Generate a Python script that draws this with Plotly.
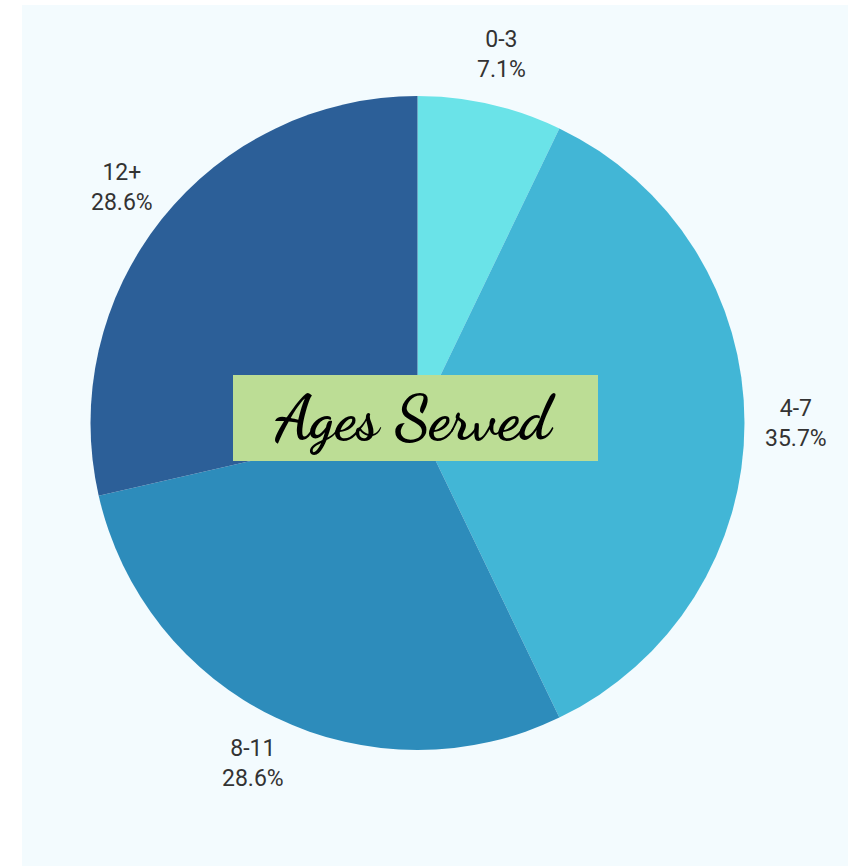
import math
import plotly.graph_objects as go

labels = ["0-3", "4-7", "8-11", "12+"]
values = [1, 5, 4, 4]
colors = ["#6ae3e8", "#42b6d6", "#2d8cbb", "#2c5f98"]
title_text = "Ages Served"

W, H = 848, 866
ml, mt = 22, 5
pw, ph = W - ml, H - mt

# pie geometry in page pixels
cx, cy, r = 417.5, 423, 327
x0 = (cx - r - ml) / pw
x1 = (cx + r - ml) / pw
y1 = 1 - (cy - r - mt) / ph
y0 = 1 - (cy + r - mt) / ph

fig = go.Figure(go.Pie(
    labels=labels,
    values=values,
    sort=False,
    direction="clockwise",
    rotation=0,
    marker=dict(colors=colors, line=dict(width=0)),
    textinfo="none",
    domain=dict(x=[x0, x1], y=[y0, y1]),
    showlegend=False,
    hoverinfo="label+percent",
))

# outside labels placed at each slice's mid-angle (derived from the values)
total = sum(values)
R_lab = 378
cum = 0
for lab, v in zip(labels, values):
    mid = (cum + v / 2) / total * 2 * math.pi
    cum += v
    px = cx + R_lab * math.sin(mid)
    py = cy - R_lab * math.cos(mid)
    fig.add_annotation(
        x=(px - ml) / pw, y=1 - (py - mt) / ph, xref="paper", yref="paper",
        xanchor="center", yanchor="middle", showarrow=False,
        text=f"{lab}<br>{v / total * 100:.1f}%",
        font=dict(family="Roboto, sans-serif", size=23, color="#333333"),
    )

bx0, bx1, by0, by1 = 233, 598, 375, 461
fig.add_shape(type="rect", xref="paper", yref="paper",
              x0=(bx0 - ml) / pw, x1=(bx1 - ml) / pw,
              y0=1 - (by1 - mt) / ph, y1=1 - (by0 - mt) / ph,
              fillcolor="#bcdd95", line=dict(width=0), layer="above")

fig.add_annotation(
    x=((bx0 + bx1) / 2 - ml) / pw, y=1 - ((by0 + by1) / 2 - mt) / ph,
    xref="paper", yref="paper", xanchor="center", yanchor="middle",
    text="<b>" + title_text + "</b>", showarrow=False,
    font=dict(family="Dancing Script, Pacifico, cursive", size=62, color="#000000"),
)

fig.add_shape(type="rect", xref="paper", yref="paper", x0=0, x1=1, y0=0, y1=1,
              fillcolor="#f3fbfe", line=dict(width=0), layer="below")

fig.update_layout(
    width=W, height=H,
    margin=dict(l=ml, r=0, t=mt, b=0),
    paper_bgcolor="#ffffff",
)

fig.write_html(
    "out.html",
    config={"displayModeBar": False},
    post_script="document.body.style.margin='0';document.body.style.overflow='hidden';",
)
